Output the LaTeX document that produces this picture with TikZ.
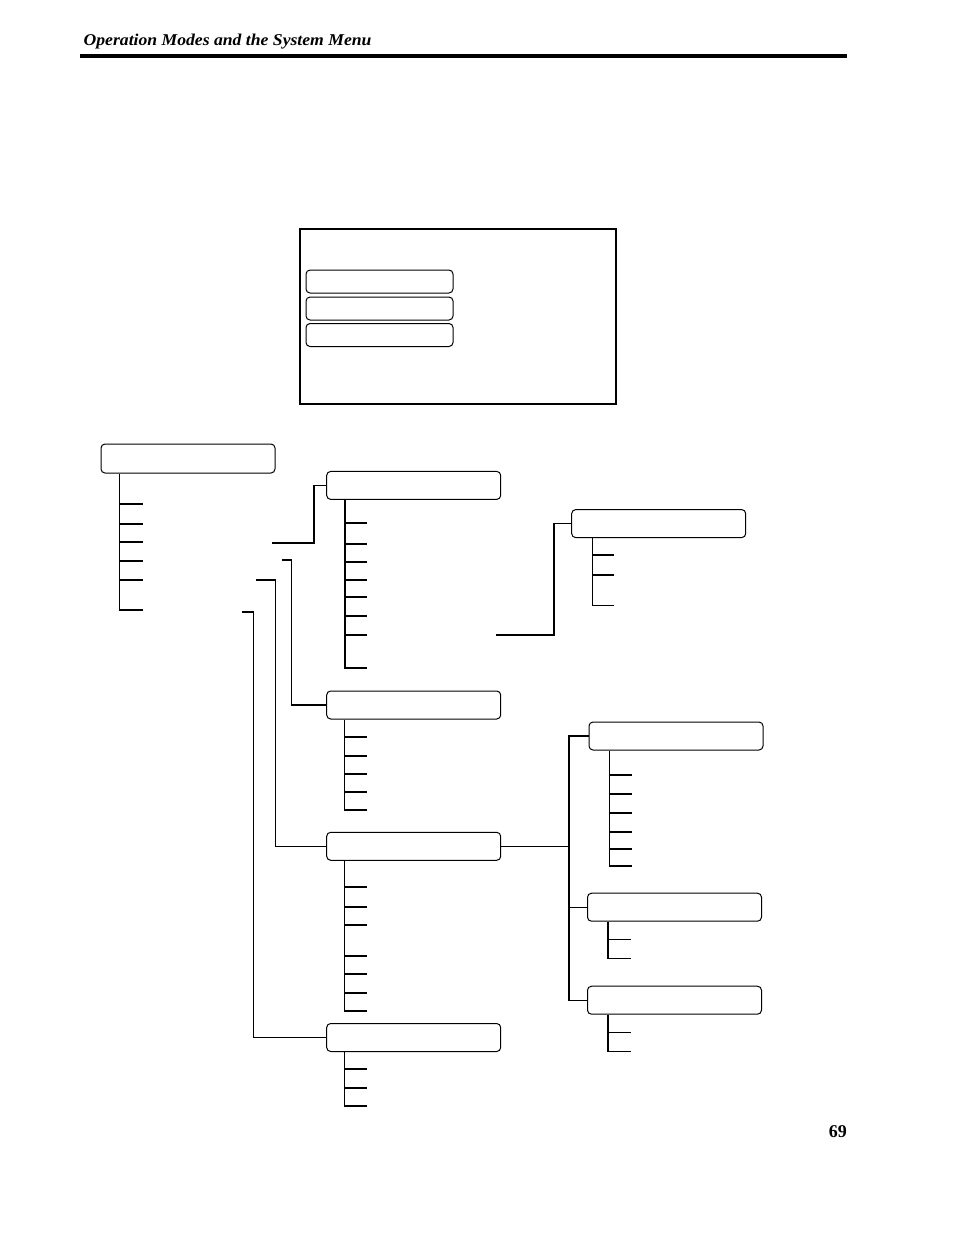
\documentclass[tikz,border=0pt]{standalone}
\usepackage{fontspec}
\setmainfont{Liberation Serif}
\usepackage{tikz}
\usetikzlibrary{positioning,calc}

\begin{document}
\begin{tikzpicture}[x=1pt,y=-1pt,line width=1.2pt]
            \tikzstyle{menu}=[draw,rounded corners=4pt,minimum width=174pt,minimum height=28pt,inner sep=0pt,line width=1pt]
            \tikzstyle{key}=[draw,rounded corners=4pt,minimum width=147pt,minimum height=23pt,inner sep=0pt,line width=1pt]
            \useasboundingbox (0,0) rectangle (954,1235);
            % page header
            \node[anchor=base west,inner sep=0pt,xscale=1.07,font=\fontsize{16.5}{18}\bfseries\itshape\selectfont] (head) at (83,45.7) {Operation Modes and the System Menu};
            \draw[line width=4.2pt] (80,56) -- (847,56);
            \node[anchor=base east,inner sep=0pt,font=\fontsize{18}{20}\bfseries\selectfont] (page) at (847.5,1137.5) {69};
            % screen
            \node[draw,line width=2pt,minimum width=316pt,minimum height=175pt,inner sep=0pt] (screen) at (458,316.5) {};
            \node[key] (k1) at (379.5,281.5) {};
            \node[key] (k2) at (379.5,308.5) {};
            \node[key] (k3) at (379.5,335) {};
            % menu boxes
            \node[menu,minimum height=29pt] (A) at (188,458.5) {};
            \node[menu] (B) at (413.7,485.4) {};
            \node[menu] (F) at (658.7,523.6) {};
            \node[menu] (C) at (413.7,705) {};
            \node[menu] (D) at (413.7,846.3) {};
            \node[menu] (E) at (413.7,1037.5) {};
            \node[menu] (G) at (676,736) {};
            \node[menu] (H) at (674.5,907.2) {};
            \node[menu] (I) at (674.5,1000.2) {};
            % trunks
            \coordinate (At) at ([xshift=19pt]A.south west);
            \coordinate (Bt) at ([xshift=18.7pt]B.south west);
            \coordinate (Ct) at ([xshift=18.5pt]C.south west);
            \coordinate (Dt) at ([xshift=18.5pt]D.south west);
            \coordinate (Et) at ([xshift=18.5pt]E.south west);
            \coordinate (Ft) at ([xshift=21pt]F.south west);
            \coordinate (Gt) at ([xshift=20.6pt]G.south west);
            \coordinate (Ht) at ([xshift=21pt]H.south west);
            \coordinate (It) at ([xshift=21pt]I.south west);
            \draw (At) -- (At |- 0,610) -- ++(23,0);
            \foreach \y in {504,524,542,561,580} \draw (At |- 0,\y) -- ++(23,0);
            \draw (Bt) -- (Bt |- 0,668) -- ++(22,0);
            \foreach \y in {523,544,562,580,597,616,635} \draw (Bt |- 0,\y) -- ++(22,0);
            \draw (Ct) -- (Ct |- 0,810) -- ++(22.5,0);
            \foreach \y in {737,756,774,792} \draw (Ct |- 0,\y) -- ++(22.5,0);
            \draw (Dt) -- (Dt |- 0,1011) -- ++(22.5,0);
            \foreach \y in {887,907,925,956,974,993} \draw (Dt |- 0,\y) -- ++(22.5,0);
            \draw (Et) -- (Et |- 0,1106) -- ++(22.5,0);
            \foreach \y in {1069,1088} \draw (Et |- 0,\y) -- ++(22.5,0);
            \draw (Ft) -- (Ft |- 0,605.5) -- ++(22,0);
            \foreach \y in {555,575} \draw (Ft |- 0,\y) -- ++(22,0);
            \draw (Gt) -- (Gt |- 0,866) -- ++(22.5,0);
            \foreach \y in {775,794,813,832,849} \draw (Gt |- 0,\y) -- ++(22.5,0);
            \draw (Ht) -- (Ht |- 0,958.7) -- ++(22.5,0);
            \draw (Ht |- 0,939.3) -- ++(22.5,0);
            \draw (It) -- (It |- 0,1051.3) -- ++(22.5,0);
            \draw (It |- 0,1032.3) -- ++(22.5,0);
            % links between menus
            \coordinate (a3) at (272,543);
            \coordinate (a4) at (282,560);
            \coordinate (a5) at (256,580);
            \coordinate (a6) at (242,612);
            \coordinate (b7) at (495.5,635);
            \draw (a3) -- ++(42,0) |- (B.west);
            \draw (a4) -- ++(9.3,0) |- (C.west);
            \draw (a5) -- ++(19.3,0) |- (D.west);
            \draw (a6) -- ++(11.3,0) |- (E.west);
            \draw (b7) -- ++(58.5,0) |- (F.west);
            \draw (D.east) -- ++(67.7,0) coordinate (dj);
            \draw (dj) |- (G.west);
            \draw (dj) |- (H.west);
            \draw (dj) |- (I.west);
          \end{tikzpicture}
\end{document}
